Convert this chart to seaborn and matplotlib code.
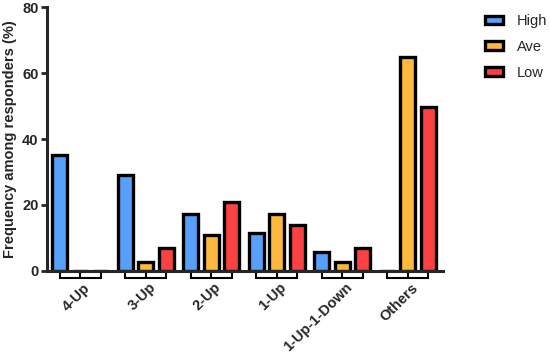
import matplotlib
matplotlib.use("Agg")
import matplotlib.pyplot as plt
import matplotlib.transforms as mtrans
import seaborn as sns
import pandas as pd

categories = ["4-Up", "3-Up", "2-Up", "1-Up", "1-Up-1-Down", "Others"]
groups = ["High", "Ave", "Low"]
high = [35.2, 29.1, 17.3, 11.5, 5.7, 0.0]
ave = [0.0, 2.8, 10.8, 17.1, 2.8, 64.8]
low = [0.0, 6.9, 20.8, 13.9, 6.9, 49.8]
colors = ["#57A0FA", "#FDB840", "#FB4142"]

rows = []
for name, vals in zip(groups, [high, ave, low]):
    for cat, v in zip(categories, vals):
        rows.append({"pattern": cat, "group": name, "freq": v})
df = pd.DataFrame(rows)

sns.set_style("ticks")
plt.rcParams["font.family"] = ["Liberation Sans", "DejaVu Sans"]

fig = plt.figure(figsize=(5.5, 3.53), dpi=100)
ax = fig.add_axes([0.0855, 0.233, 0.72, 0.746])

sns.barplot(data=df, x="pattern", y="freq", hue="group", order=categories,
            hue_order=groups, palette=colors, width=0.94, gap=0.27,
            edgecolor="black", linewidth=2.4, saturation=1, legend=True, ax=ax)

ax.set_ylim(0, 80)
ax.set_xlim(-0.505, 5.54)
ax.set_yticks([0, 20, 40, 60, 80])
ax.set_xlabel("")
ax.set_ylabel("Frequency among responders (%)", fontsize=10.5, fontweight="bold")
for s in ["top", "right"]:
    ax.spines[s].set_visible(False)
for s in ["left", "bottom"]:
    ax.spines[s].set_linewidth(2.2)
ax.tick_params(axis="y", width=2, length=4, labelsize=10.5, pad=2)
ax.tick_params(axis="x", length=0, labelsize=10.5, pad=7)
for lab in ax.get_yticklabels():
    lab.set_fontweight("bold")
shift = mtrans.ScaledTranslation(3 / 100, 0, fig.dpi_scale_trans)
for lab in ax.get_xticklabels():
    lab.set_fontweight("bold")
    lab.set_rotation(45)
    lab.set_ha("right")
    lab.set_rotation_mode("anchor")
    lab.set_transform(lab.get_transform() + shift)

# brackets under each group (GraphPad style), from bar centres
centres = sorted(p.get_x() + p.get_width() / 2 for p in ax.patches if p.get_width() > 0)
per_group = {}
for c in centres:
    per_group.setdefault(int(round(c)), []).append(c)
depth = -2.2
for g, xs in per_group.items():
    xs = sorted(xs)[:3]
    ax.plot([xs[0], xs[0], xs[-1], xs[-1]], [0, depth, depth, 0], color="black",
            lw=1.5, clip_on=False, solid_joinstyle="miter", zorder=1)
    ax.plot([xs[1], xs[1]], [0, depth], color="black", lw=1.5, clip_on=False, zorder=1)

handles, labels = ax.get_legend_handles_labels()
ax.legend_.remove()
fig.legend(handles, labels, loc="upper left", bbox_to_anchor=(0.858, 0.997),
           frameon=False, fontsize=10.5, handlelength=1.25, handleheight=0.55,
           labelspacing=0.8, handletextpad=0.95)

fig.savefig("out.png", dpi=100)
